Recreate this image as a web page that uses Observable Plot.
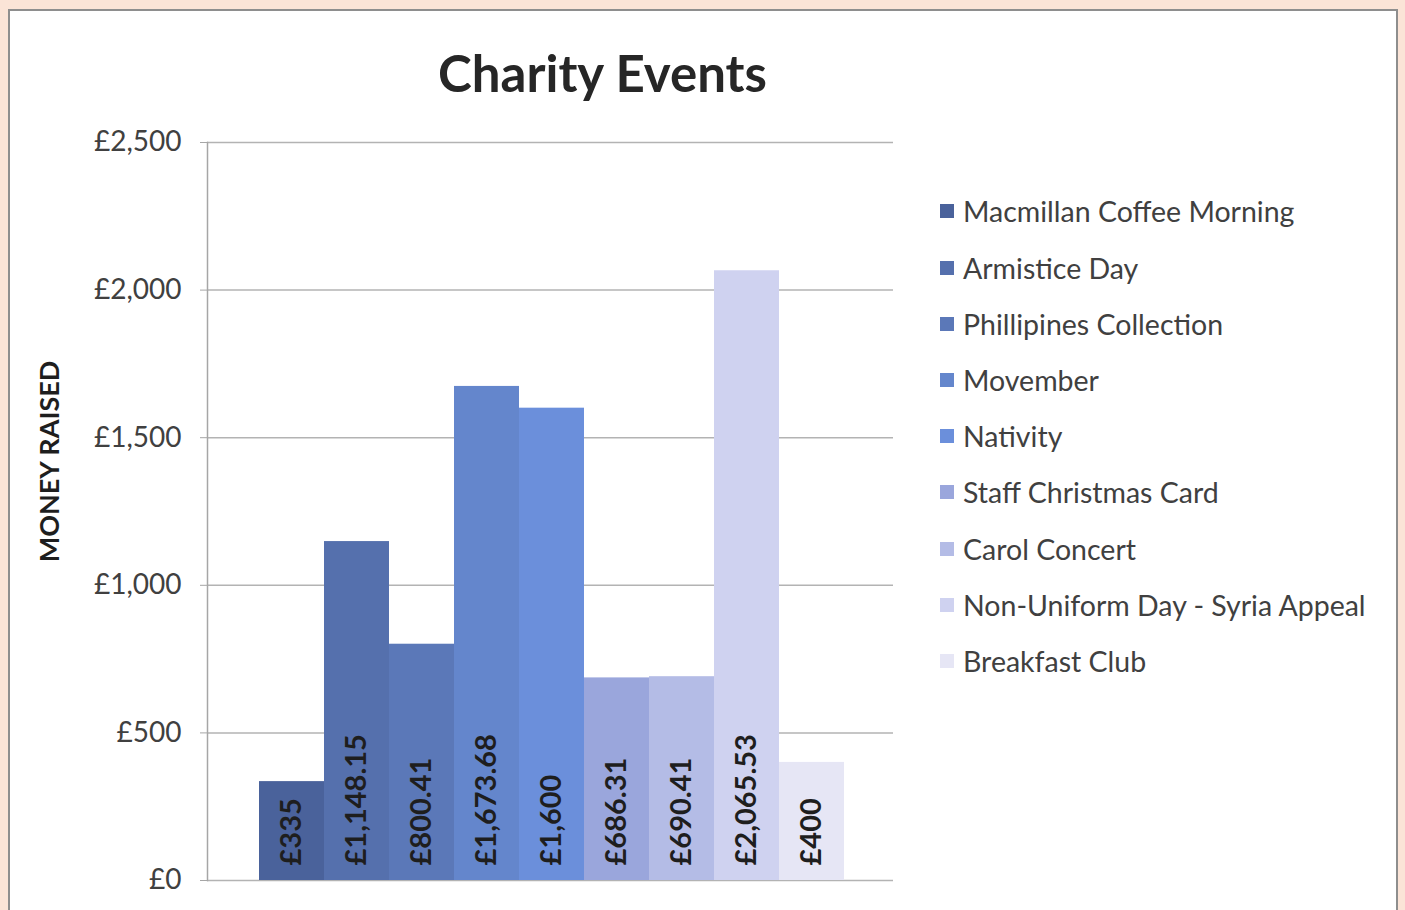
<!DOCTYPE html>
<html>
<head>
<meta charset="utf-8">
<script src="https://cdn.jsdelivr.net/npm/d3@7"></script>
<script src="https://cdn.jsdelivr.net/npm/@observablehq/plot@0.6"></script>
<style>
  html, body { margin: 0; padding: 0; }
  body { width: 1405px; height: 910px; background: #fbe4d7; position: relative; overflow: hidden; font-family: Lato, "Open Sans", sans-serif; }
  #panel { position: absolute; left: 8px; top: 9px; width: 1390px; height: 940px; background: #ffffff; border: 2px solid #8e8e8e; box-sizing: border-box; }
  #title { position: absolute; left: 0; width: 1205px; top: 42px; text-align: center; font-weight: bold; font-size: 51px; color: #262626; }
  #chart { position: absolute; left: 0; top: 0; }
  #legend { position: absolute; left: 940px; top: 0; }
  .item { position: absolute; left: 0; height: 30px; white-space: nowrap; display: flex; align-items: center; }
  .sw { width: 14px; height: 14px; margin-right: 9px; }
  .lab { font-size: 28.5px; color: #404040; }
</style>
</head>
<body>
<div id="panel"></div>
<div id="chart"></div>
<div id="title">Charity Events</div>
<div id="legend"></div>
<script>
const events = ["Macmillan Coffee Morning", "Armistice Day", "Phillipines Collection", "Movember", "Nativity", "Staff Christmas Card", "Carol Concert", "Non-Uniform Day - Syria Appeal", "Breakfast Club"];
const raised = [335, 1148.15, 800.41, 1673.68, 1600, 686.31, 690.41, 2065.53, 400];
const colors = ["#4a629b", "#5570ad", "#5b78b8", "#6486cc", "#6b8fdb", "#9aa6dc", "#b4bce6", "#cfd2f0", "#e6e6f5"];
const yTicks = [0, 500, 1000, 1500, 2000, 2500];

const data = events.map((name, i) => ({name, value: raised[i]}));
const money = v => "£" + (Number.isInteger(v) ? d3.format(",")(v) : d3.format(",.2f")(v));

const chart = Plot.plot({
  width: 1405,
  height: 910,
  marginLeft: 207,
  marginRight: 512,
  marginTop: 142,
  marginBottom: 30,
  style: {background: "transparent", fontFamily: "Lato, 'Open Sans', sans-serif", overflow: "visible"},
  x: {domain: events, padding: 0, insetLeft: 52, insetRight: 49, axis: null},
  y: {domain: [0, 2500], axis: null},
  color: {domain: events, range: colors},
  marks: [
    Plot.ruleY(yTicks, {stroke: "#b3b3b3", strokeWidth: 1.5}),
    Plot.barY(data, {x: "name", y: "value", fill: "name"}),
    Plot.axisY({ticks: yTicks, tickFormat: d => "£" + d3.format(",")(d), tickSize: 7, tickPadding: 19, fontSize: 28, color: "#404040", stroke: "#a6a6a6", label: null}),
    Plot.frame({anchor: "left", stroke: "#a6a6a6", strokeWidth: 1.5}),
    Plot.text(data, {x: "name", y: 0, text: d => money(d.value), rotate: -90, textAnchor: "start", dy: -15, fontSize: 29, fontWeight: "bold", fill: "#1e1e1e"}),
    Plot.text(["MONEY RAISED"], {frameAnchor: "left", textAnchor: "middle", dx: -157, dy: -50, rotate: -90, fontSize: 27, fontWeight: "bold", fill: "#1e1e1e", text: d => d})
  ]
});
document.getElementById("chart").appendChild(chart);

const legend = document.getElementById("legend");
const rowY = [211, 268, 324, 380, 436, 492, 549, 605, 661];
events.forEach((name, i) => {
  const it = document.createElement("div");
  it.className = "item";
  it.style.top = (rowY[i] - 15) + "px";
  it.innerHTML = `<div class="sw" style="background:${colors[i]}"></div><span class="lab">${name}</span>`;
  legend.appendChild(it);
});
</script>
</body>
</html>
